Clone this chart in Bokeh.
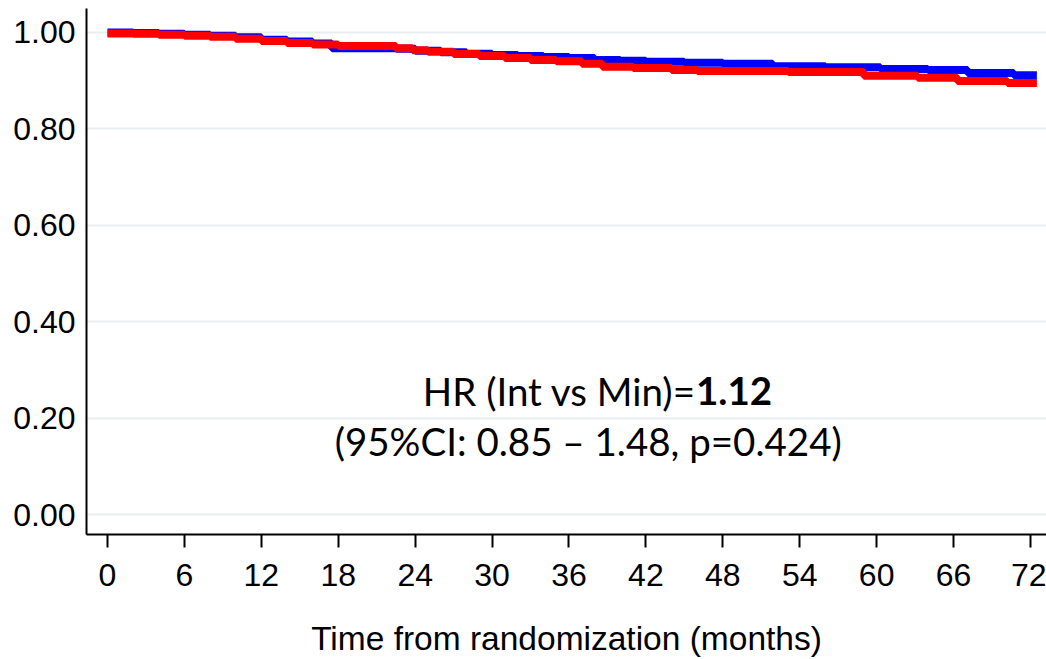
from bokeh.plotting import figure
from bokeh.models import FixedTicker, Range1d, Label, NumeralTickFormatter
from bokeh.embed import file_html
from bokeh.resources import INLINE

# Kaplan-Meier style step data (months, survival probability)
months_blue = [0, 2, 4, 6, 8, 10, 12, 14, 16, 17.5, 22.5, 24, 26, 28, 30, 32, 34, 36, 38, 40, 42, 45, 48, 51.9, 56, 60.3, 64, 67.1, 70.7, 72.5]
surv_blue = [1.000, 0.999, 0.997, 0.995, 0.993, 0.990, 0.985, 0.981, 0.977, 0.967, 0.966, 0.962, 0.959, 0.956, 0.953, 0.951, 0.949, 0.947, 0.943, 0.941, 0.939, 0.937, 0.935, 0.930, 0.928, 0.924, 0.922, 0.916, 0.911, 0.911]

months_red = [0, 2, 4, 6, 8, 10, 12, 14, 16, 18, 22.5, 23.8, 25, 27, 29, 31, 33, 35, 37, 38.6, 41, 44, 46, 53.1, 59, 63.2, 66.3, 70.2, 72.5]
surv_red = [0.998, 0.997, 0.995, 0.993, 0.991, 0.987, 0.982, 0.978, 0.975, 0.972, 0.967, 0.963, 0.960, 0.955, 0.951, 0.947, 0.943, 0.940, 0.935, 0.929, 0.926, 0.922, 0.920, 0.918, 0.910, 0.906, 0.899, 0.895, 0.895]

x_ticks = [0, 6, 12, 18, 24, 30, 36, 42, 48, 54, 60, 66, 72]
y_ticks = [0.0, 0.2, 0.4, 0.6, 0.8, 1.0]

x_title = "Time from randomization (months)"
hr_text = "HR (Int vs Min)="
hr_value = "1.12"
ci_text = "(95%CI: 0.85 \u2013 1.48, p=0.424)"

p = figure(width=1046, height=659, output_backend="svg", toolbar_location=None,
           x_range=Range1d(-1.64, 73.25), y_range=Range1d(-0.0413, 1.0496),
           min_border_left=86, min_border_right=0, min_border_top=8, min_border_bottom=123)
p.outline_line_color = None
p.background_fill_color = "white"
p.border_fill_color = "white"

p.step(months_blue, surv_blue, mode="after", line_color="#0000ff", line_width=8)
p.step(months_red, surv_red, mode="after", line_color="#ff0000", line_width=8)

# axes
p.xaxis.ticker = FixedTicker(ticks=x_ticks)
p.yaxis.ticker = FixedTicker(ticks=y_ticks)
p.yaxis.formatter = NumeralTickFormatter(format="0.00")
for ax in (p.xaxis, p.yaxis):
    ax.axis_line_color = "black"
    ax.axis_line_width = 2
    ax.major_tick_line_color = "black"
    ax.major_tick_line_width = 2
    ax.minor_tick_line_color = None
    ax.major_label_text_font = "Liberation Sans"
    ax.major_label_text_font_size = "32px"
    ax.major_label_text_color = "black"
p.xaxis.major_tick_out = 13
p.xaxis.major_tick_in = 0
p.xaxis.major_label_standoff = 16
p.yaxis.major_tick_out = 0
p.yaxis.major_tick_in = 0
p.yaxis.major_label_standoff = 11

p.xaxis.axis_label = x_title
p.xaxis.axis_label_text_font = "Liberation Sans"
p.xaxis.axis_label_text_font_size = "33.5px"
p.xaxis.axis_label_text_font_style = "normal"
p.xaxis.axis_label_text_color = "black"
p.xaxis.axis_label_standoff = 31

p.xgrid.grid_line_color = None
p.ygrid.grid_line_color = "#e9eef1"
p.ygrid.grid_line_width = 2

# annotation
p.add_layout(Label(x=45.9, y=0.256, text=hr_text, text_align="right", text_baseline="middle",
                   text_font="Lato", text_font_size="38.5px", text_color="black"))
p.add_layout(Label(x=45.9, y=0.256, text=hr_value, text_align="left", text_baseline="middle",
                   text_font="Lato", text_font_size="38.5px", text_font_style="bold", text_color="black"))
p.add_layout(Label(x=37.5, y=0.153, text=ci_text, text_align="center", text_baseline="middle",
                   text_font="Lato", text_font_size="38.5px", text_color="black"))

open("out.html", "w").write(file_html(p, INLINE))
